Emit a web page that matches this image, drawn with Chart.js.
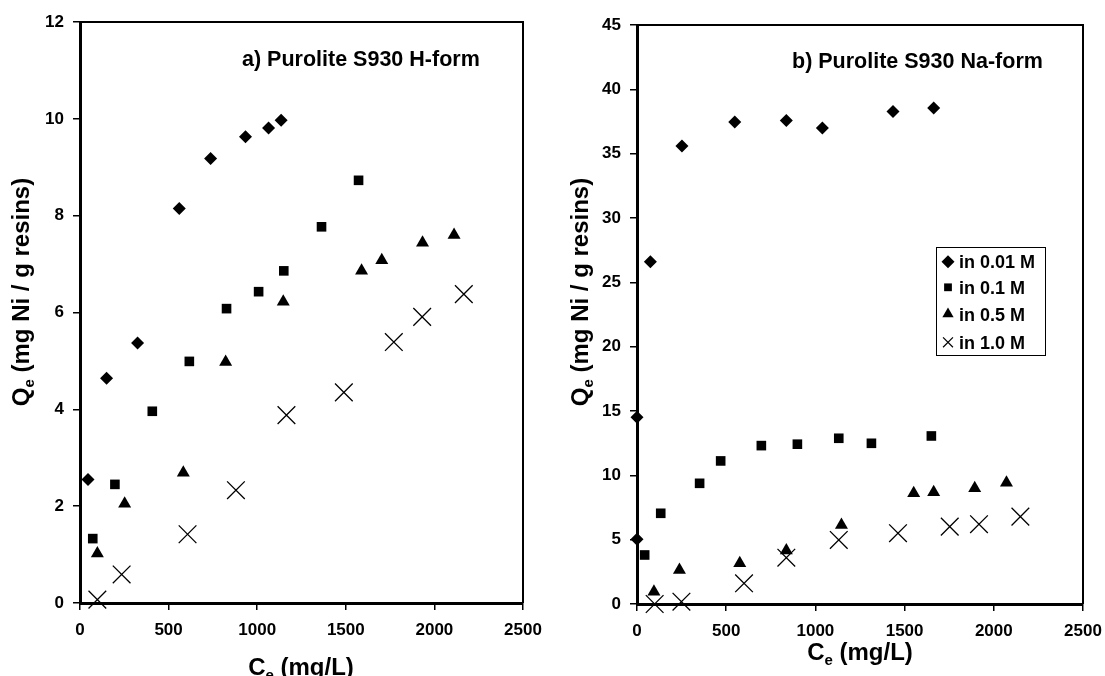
<!DOCTYPE html>
<html>
<head>
<meta charset="utf-8">
<title>Ni isotherms - Purolite S930</title>
<script src="https://cdn.jsdelivr.net/npm/chart.js@4.4.1/dist/chart.umd.min.js"></script>
<style>
    html, body { margin: 0; padding: 0; background: #fff; }
    #wrap { position: relative; width: 1105px; height: 676px; overflow: hidden; }
    canvas { position: absolute; top: 0; }
    #hCanvas { left: 0; }
    #naCanvas { left: 552px; }
</style>
</head>
<body>
<div id="wrap">
    <canvas id="hCanvas" width="552" height="676"></canvas>
    <canvas id="naCanvas" width="553" height="676"></canvas>
</div>
<script>
// Series names (salt concentration)
const seriesLabels = ['in 0.01 M', 'in 0.1 M', 'in 0.5 M', 'in 1.0 M'];

// a) H-form : Ce (mg/L) and Qe (mg Ni / g resin)
const hX001 = [45, 150, 325, 560, 737, 934, 1064, 1135];
const hY001 = [2.55, 4.64, 5.37, 8.15, 9.18, 9.63, 9.81, 9.97];
const hX01 = [72, 197, 408, 617, 827, 1008, 1150, 1363, 1572];
const hY01 = [1.33, 2.45, 3.96, 4.99, 6.08, 6.43, 6.86, 7.77, 8.73];
const hX05 = [98, 252, 583, 822, 1147, 1589, 1703, 1933, 2111];
const hY05 = [1.02, 2.05, 2.69, 4.98, 6.22, 6.86, 7.08, 7.44, 7.60];
const hX10 = [98, 235, 607, 880, 1165, 1489, 1771, 1931, 2166];
const hY10 = [0.07, 0.59, 1.42, 2.33, 3.88, 4.35, 5.39, 5.91, 6.38];

// b) Na-form
const naX001 = [0, 0, 75, 252, 548, 837, 1039, 1435, 1663];
const naY001 = [5.03, 14.52, 26.6, 35.6, 37.46, 37.58, 37.0, 38.28, 38.54];
const naX01 = [43, 133, 351, 469, 697, 899, 1131, 1314, 1650];
const naY01 = [3.81, 7.05, 9.38, 11.12, 12.31, 12.42, 12.88, 12.49, 13.06];
const naX05 = [95, 238, 576, 837, 1146, 1551, 1663, 1893, 2071];
const naY05 = [0.96, 2.64, 3.16, 4.15, 6.14, 8.6, 8.68, 9.0, 9.43];
const naX10 = [99, 249, 600, 837, 1131, 1463, 1753, 1917, 2149];
const naY10 = [0.0, 0.18, 1.61, 3.6, 4.98, 5.5, 6.01, 6.2, 6.79];

// Tick values
const xTicks = [0, 500, 1000, 1500, 2000, 2500];
const hYTicks = [0, 2, 4, 6, 8, 10, 12];
const naYTicks = [0, 5, 10, 15, 20, 25, 30, 35, 40, 45];

const fontFamily = '"Liberation Sans", Arial, sans-serif';

// marker per series: diamond, square, triangle, x
const markers = [
    { style: 'rectRot', radius: 6.5, legendRadius: 6.5 },
    { style: 'rect', radius: 6.8, legendRadius: 5.5 },
    { style: 'triangle', radius: 7.5, legendRadius: 6.5 },
    { style: 'crossRot', radius: 12.5, legendRadius: 7 }
];

function makeDatasets(xs, ys) {
    return xs.map((xArr, i) => ({
        label: seriesLabels[i],
        data: xArr.map((x, j) => ({ x: x, y: ys[i][j] })),
        pointStyle: markers[i].style,
        pointRadius: markers[i].radius,
        pointHoverRadius: markers[i].radius,
        backgroundColor: '#000',
        borderColor: '#000',
        borderWidth: i === 3 ? 1.3 : 0,
        showLine: false,
        clip: false
    }));
}

// text like "Q" + subscript "e" + rest, centred on (cx, cy)
function drawSubText(ctx, main, sub, rest, cx, cy, rot) {
    const big = 'bold 24px ' + fontFamily;
    const small = 'bold 15px ' + fontFamily;
    ctx.save();
    ctx.font = big;
    const w1 = ctx.measureText(main).width;
    const w3 = ctx.measureText(rest).width;
    ctx.font = small;
    const w2 = ctx.measureText(sub).width;
    const total = w1 + w2 + w3;
    ctx.translate(cx, cy);
    ctx.rotate(rot);
    ctx.textAlign = 'left';
    ctx.textBaseline = 'alphabetic';
    ctx.fillStyle = '#000';
    let x = -total / 2;
    ctx.font = big;
    ctx.fillText(main, x, 0);
    ctx.font = small;
    ctx.fillText(sub, x + w1, 5);
    ctx.font = big;
    ctx.fillText(rest, x + w1 + w2, 0);
    ctx.restore();
}

function drawLegend(ctx, lg) {
    ctx.save();
    ctx.strokeStyle = '#000';
    ctx.lineWidth = 1;
    ctx.fillStyle = '#fff';
    ctx.fillRect(lg.x, lg.y, lg.w, lg.h);
    ctx.strokeRect(lg.x + 0.5, lg.y + 0.5, lg.w, lg.h);
    ctx.font = 'bold 18px ' + fontFamily;
    ctx.textAlign = 'left';
    ctx.textBaseline = 'alphabetic';
    seriesLabels.forEach((label, i) => {
        const y = lg.rows[i];
        ctx.fillStyle = '#000';
        ctx.strokeStyle = '#000';
        ctx.lineWidth = 1.2;
        Chart.helpers.drawPoint(ctx, {
            pointStyle: markers[i].style,
            radius: markers[i].legendRadius,
            borderWidth: i === 3 ? 1.2 : 0,
            rotation: 0
        }, lg.markerX, y);
        ctx.fillStyle = '#000';
        ctx.fillText(label, lg.textX, y + 6.5);
    });
    ctx.restore();
}

// frame on top/right, panel title, axis titles and legend
function decorPlugin(opts) {
    return {
        id: 'decor',
        afterDraw(chart) {
            const ctx = chart.ctx;
            const a = chart.chartArea;
            ctx.save();
            ctx.strokeStyle = '#000';
            ctx.lineWidth = 2;
            ctx.beginPath();
            ctx.moveTo(a.left, a.top);
            ctx.lineTo(a.right, a.top);
            ctx.lineTo(a.right, a.bottom);
            ctx.stroke();

            ctx.fillStyle = '#000';
            ctx.font = 'bold 21.5px ' + fontFamily;
            ctx.textAlign = 'left';
            ctx.textBaseline = 'alphabetic';
            ctx.fillText(opts.title, opts.titleX, opts.titleY);
            ctx.restore();

            drawSubText(ctx, 'C', 'e', ' (mg/L)', opts.xTitleX, opts.xTitleY, 0);
            drawSubText(ctx, 'Q', 'e', ' (mg Ni / g resins)', opts.yTitleX, opts.yTitleY, -Math.PI / 2);

            if (opts.legend) drawLegend(ctx, opts.legend);
        }
    };
}

function makeChart(canvasId, datasets, yMax, yTicks, box, decor) {
    const tickFont = { family: fontFamily, size: 17, weight: 'bold' };
    const axisGrid = {
        display: true,
        drawOnChartArea: false,
        drawTicks: true,
        tickLength: 7,
        color: '#000',
        lineWidth: 1.5
    };
    return new Chart(document.getElementById(canvasId), {
        type: 'scatter',
        data: { datasets: datasets },
        options: {
            responsive: false,
            animation: false,
            events: [],
            layout: { padding: { top: box.top, right: box.right, left: 0, bottom: 0 } },
            plugins: {
                legend: { display: false },
                tooltip: { enabled: false }
            },
            scales: {
                x: {
                    type: 'linear',
                    min: 0,
                    max: 2500,
                    afterBuildTicks: s => { s.ticks = xTicks.map(v => ({ value: v })); },
                    // fixed axis height, no extra room for edge labels
                    afterFit: s => { s.height = box.xHeight; s.paddingLeft = 0; s.paddingRight = 0; },
                    ticks: { color: '#000', font: tickFont, padding: 10, maxRotation: 0, callback: v => String(v) },
                    grid: axisGrid,
                    border: { display: true, color: '#000', width: 3 }
                },
                y: {
                    type: 'linear',
                    min: 0,
                    max: yMax,
                    afterBuildTicks: s => { s.ticks = yTicks.map(v => ({ value: v })); },
                    afterFit: s => { s.width = box.yWidth; },
                    ticks: { color: '#000', font: tickFont, padding: 9, callback: v => String(v) },
                    grid: axisGrid,
                    border: { display: true, color: '#000', width: 3 }
                }
            }
        },
        plugins: [decorPlugin(decor)]
    });
}

const hChart = makeChart('hCanvas',
    makeDatasets([hX001, hX01, hX05, hX10], [hY001, hY01, hY05, hY10]),
    12, hYTicks,
    { top: 22, right: 29, yWidth: 80, xHeight: 73 },
    {
        title: 'a) Purolite S930 H-form', titleX: 242, titleY: 66,
        xTitleX: 301, xTitleY: 675,
        yTitleX: 29, yTitleY: 292
    });

const naChart = makeChart('naCanvas',
    makeDatasets([naX001, naX01, naX05, naX10], [naY001, naY01, naY05, naY10]),
    45, naYTicks,
    { top: 25, right: 22, yWidth: 85, xHeight: 72 },
    {
        title: 'b) Purolite S930 Na-form', titleX: 240, titleY: 68,
        xTitleX: 308, xTitleY: 660,
        yTitleX: 36, yTitleY: 292,
        legend: {
            x: 384, y: 247, w: 109, h: 108,
            markerX: 396, textX: 407,
            rows: [261.7, 287.3, 314, 342.3]
        }
    });
</script>
</body>
</html>
